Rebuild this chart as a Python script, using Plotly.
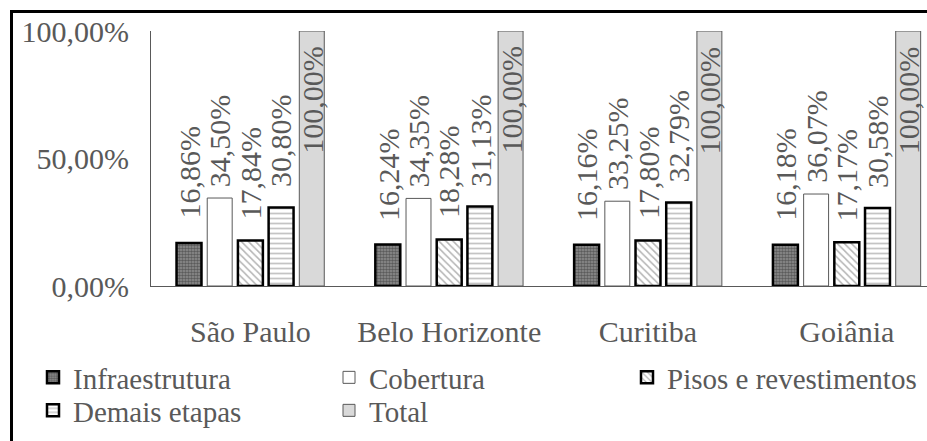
import plotly.graph_objects as go

# --- data -----------------------------------------------------------------
cities = ["São Paulo", "Belo Horizonte", "Curitiba", "Goiânia"]
infraestrutura = [16.86, 16.24, 16.16, 16.18]
cobertura = [34.50, 34.35, 33.25, 36.07]
pisos_revestimentos = [17.84, 18.28, 17.80, 17.17]
demais_etapas = [30.80, 31.13, 32.79, 30.58]
total = [100.00, 100.00, 100.00, 100.00]

y_tick_values = [0, 50, 100]
y_tick_labels = ["0,00%", "50,00%", "100,00%"]

# --- geometry / style -----------------------------------------------------
W, H = 927, 441
ML, MR, MT, MB = 151, 0, 31, 155
PLOT_W = W - ML - MR
PLOT_H = H - MT - MB
CAT_PX = 198.8                      # pixels per category slot
X_MAX = PLOT_W / CAT_PX - 0.5       # right side of the axis is cut by the page edge

BARGAP = 0.228
BARGROUPGAP = 0.187

FONT = "serif"
TXT = "#595959"
FS = 30
FS_LEGEND = 29


def px_x(px):
    return (px - ML) / PLOT_W


def px_y(py):
    return (H - MB - py) / PLOT_H


def pct(v):
    return f"{v:.2f}".replace(".", ",") + "%"


# legend slots: (column left px, row top px)
COLS = [33, 329, 627]
ROWS = [352, 385]

series = [
    dict(name="Infraestrutura", y=infraestrutura, slot=(0, 0),
         marker=dict(color="#8a8a8a",
                     pattern=dict(shape=".", fgcolor="#262626", bgcolor="#909090",
                                  size=3, solidity=0.55),
                     line=dict(color="#000000", width=2.5)),
         gap=22),
    dict(name="Cobertura", y=cobertura, slot=(1, 0),
         marker=dict(color="#ffffff", line=dict(color="#595959", width=1)),
         gap=9),
    dict(name="Pisos e revestimentos", y=pisos_revestimentos, slot=(2, 0),
         marker=dict(color="#ffffff",
                     pattern=dict(shape="\\", fgcolor="#6a6a6a", bgcolor="#ffffff",
                                  size=5, solidity=0.3),
                     line=dict(color="#000000", width=2.5)),
         gap=19),
    dict(name="Demais etapas", y=demais_etapas, slot=(0, 1),
         marker=dict(color="#ffffff",
                     pattern=dict(shape="-", fgcolor="#8a8a8a", bgcolor="#ffffff",
                                  size=5, solidity=0.35),
                     line=dict(color="#000000", width=2.5)),
         gap=18),
    dict(name="Total", y=total, slot=(1, 1),
         marker=dict(color="#d9d9d9", line=dict(color="#595959", width=1)),
         gap=None),
]

fig = go.Figure()
n = len(series)
slot = (1 - BARGAP) / n
annotations = []
legends = {}
for i, s in enumerate(series):
    lname = "legend" if i == 0 else f"legend{i + 1}"
    col, row = s["slot"]
    legends[lname] = dict(x=px_x(COLS[col]), y=px_y(ROWS[row]),
                          xanchor="left", yanchor="top",
                          font=dict(family=FONT, size=FS_LEGEND, color=TXT),
                          bgcolor="rgba(0,0,0,0)", borderwidth=0,
                          itemclick=False, itemdoubleclick=False)
    fig.add_trace(go.Bar(
        x=cities, y=s["y"], name=s["name"], legend=lname,
        marker=s["marker"], hoverinfo="skip",
    ))
    dx = -(1 - BARGAP) / 2 + slot * (i + 0.5)
    for j, v in enumerate(s["y"]):
        if s["gap"] is None:
            # value printed inside the top of the bar
            annotations.append(dict(
                x=j + dx, y=v, xref="x", yref="y", text=pct(v), showarrow=False,
                textangle=-90, yanchor="top", xanchor="center", yshift=-13,
                font=dict(family=FONT, size=FS, color=TXT)))
        else:
            annotations.append(dict(
                x=j + dx, y=v, xref="x", yref="y", text=pct(v), showarrow=False,
                textangle=-90, yanchor="bottom", xanchor="center", yshift=s["gap"],
                font=dict(family=FONT, size=FS, color=TXT)))

# outer frame (left and top edges)
xl, xr = px_x(11.5), px_x(W + 5)
yt, yb = px_y(11.5), px_y(H + 5)
shapes = [dict(type="path", xref="paper", yref="paper",
               path=f"M {xl},{yb} L {xl},{yt} L {xr},{yt}",
               line=dict(color="#000000", width=3))]

fig.update_layout(
    width=W, height=H,
    margin=dict(l=ML, r=MR, t=MT, b=MB, pad=0, autoexpand=False),
    paper_bgcolor="#ffffff", plot_bgcolor="#ffffff",
    barmode="group", bargap=BARGAP, bargroupgap=BARGROUPGAP,
    font=dict(family=FONT, size=FS, color=TXT),
    xaxis=dict(type="category", range=[-0.5, X_MAX], showgrid=False,
               showline=True, linecolor="#595959", linewidth=1, ticks="",
               tickfont=dict(family=FONT, size=FS, color=TXT),
               ticklabelstandoff=19, fixedrange=True),
    yaxis=dict(range=[0, 100], tickvals=y_tick_values, ticktext=y_tick_labels,
               showgrid=False, zeroline=False, showline=True,
               linecolor="#595959", linewidth=1, ticks="",
               tickfont=dict(family=FONT, size=FS, color=TXT),
               ticklabelstandoff=15, fixedrange=True),
    annotations=annotations,
    shapes=shapes,
    showlegend=True,
    **legends,
)

fig.write_html("out.html")
